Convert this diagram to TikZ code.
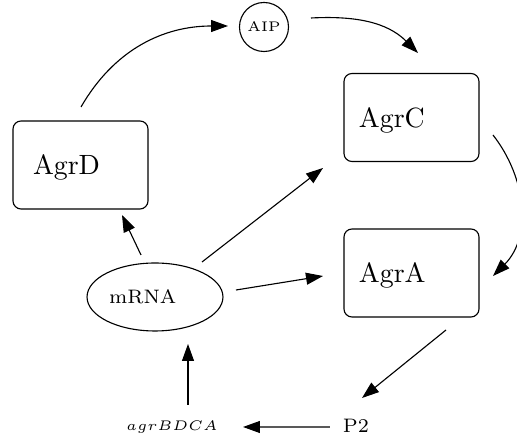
\documentclass[tikz,border=0pt]{standalone}
\usetikzlibrary{arrows.meta,shapes.geometric}
\def\pxu{0.359pt}
\begin{document}
\begin{tikzpicture}[x=\pxu,y=\pxu,
  box/.style={draw, line width=0.4pt, rounded corners=2.9pt, minimum width=48.47pt,
    minimum height=31.6pt, align=left, text height=8.98pt, text depth=1.8pt, font=\normalsize},
  boxD/.style={box, inner xsep=7.18pt, text width=34.1pt},
  boxC/.style={box, inner xsep=5.39pt, text width=37.7pt},
  aipnode/.style={draw, line width=0.4pt, circle, minimum size=17.6pt, inner sep=0pt, font=\tiny},
  mrnanode/.style={draw, line width=0.4pt, ellipse, minimum width=48.8pt, minimum height=24.4pt,
    inner sep=0.5pt, text width=33.0pt, align=left, font=\scriptsize},
  plain/.style={inner sep=0pt, font=\scriptsize},
  gene/.style={inner sep=0pt, font=\tiny},
  arr/.style={-{Triangle[length=6.1pt,width=4.3pt]}, line width=0.4pt}
]
\useasboundingbox (0,0) rectangle (517,-442);
\node[boxD] (AgrD) at (80.5,-165) {AgrD};
\node[boxC] (AgrC) at (411.5,-117.5) {AgrC};
\node[boxC] (AgrA) at (411.5,-273) {AgrA};
\node[aipnode] (AIP) at (264,-27) {AIP};
\node[mrnanode] (mRNA) at (155,-297) {mRNA};
\node[gene] (agr) at (172,-427) {$agrBDCA$};
\node[plain] (P2) at (356,-425.5) {P2};

\draw[arr] ([shift={(0.5,58)}]AgrD.center) to[out=60,in=180] ([shift={(-36,1)}]AIP.center);
\draw[arr] ([shift={(47,9)}]AIP.center) to[out=3,in=135] ([shift={(6.5,64.5)}]AgrC.center);
\draw[arr] ([shift={(81.5,-17.5)}]AgrC.center) to[out=-52,in=45] ([shift={(81.5,-3)}]AgrA.center);
\draw[arr] ([shift={(-14,42)}]mRNA.center) -- ([shift={(41.5,-50)}]AgrD.center);
\draw[arr] ([shift={(47,35)}]mRNA.center) -- ([shift={(-88.5,-50.5)}]AgrC.center);
\draw[arr] ([shift={(81,7)}]mRNA.center) -- ([shift={(-88.5,-3)}]AgrA.center);
\draw[arr] ([shift={(34.5,-57)}]AgrA.center) -- ([shift={(6,27.5)}]P2.center);
\draw[arr] ([shift={(-26,-1.5)}]P2.center) -- ([shift={(71,0)}]agr.center);
\draw[arr] ([shift={(16,22)}]agr.center) -- ([shift={(33,-47)}]mRNA.center);
\end{tikzpicture}
\end{document}
